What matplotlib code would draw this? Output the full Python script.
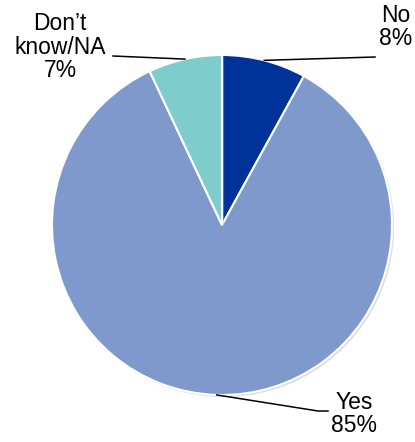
import numpy as np
import matplotlib.pyplot as plt
import matplotlib.patheffects as pe

plt.rcParams['font.family'] = ['Liberation Sans', 'DejaVu Sans']

# Data
labels = ['No', 'Yes', 'Don\u2019t\nknow/NA']
values = [8, 85, 7]
colors = ['#003399', '#7f99cc', '#7fcccc']

W, H = 415, 442
fig = plt.figure(figsize=(W / 100, H / 100), dpi=100)
ax = fig.add_axes([0, 0, 1, 1])

cx, cy, r = 222, H - 225, 170
wedges, _ = ax.pie(values, colors=colors, startangle=90, counterclock=False,
                   center=(cx, cy), radius=r,
                   wedgeprops=dict(edgecolor='white', linewidth=1.5))
for w in wedges:
    w.set_path_effects([pe.SimplePatchShadow(offset=(1.5, -1.5), shadow_rgbFace='#aaaaaa', alpha=0.4),
                        pe.Normal()])

# label text positions and leader line end points (pixel coords from top)
text_pos = [(396, 27), (354, 414), (60, 47)]
line_pts = [[(375, 57)], [(318, 411), (328, 411)], [(113, 56)]]

for w, lab, v, tp, pts in zip(wedges, labels, values, text_pos, line_pts):
    mid = np.deg2rad((w.theta1 + w.theta2) / 2)
    ex, ey = cx + r * np.cos(mid), cy + r * np.sin(mid)
    xs = [ex] + [p[0] for p in pts]
    ys = [ey] + [H - p[1] for p in pts]
    ax.plot(xs, ys, color='black', lw=1.1)
    ax.text(tp[0], H - tp[1], f'{lab}\n{v}%', ha='center', va='center',
            fontsize=16.5, linespacing=1.05)

ax.set_xlim(0, W)
ax.set_ylim(0, H)
ax.set_aspect('equal')
ax.axis('off')

fig.savefig('out.png', dpi=100)
